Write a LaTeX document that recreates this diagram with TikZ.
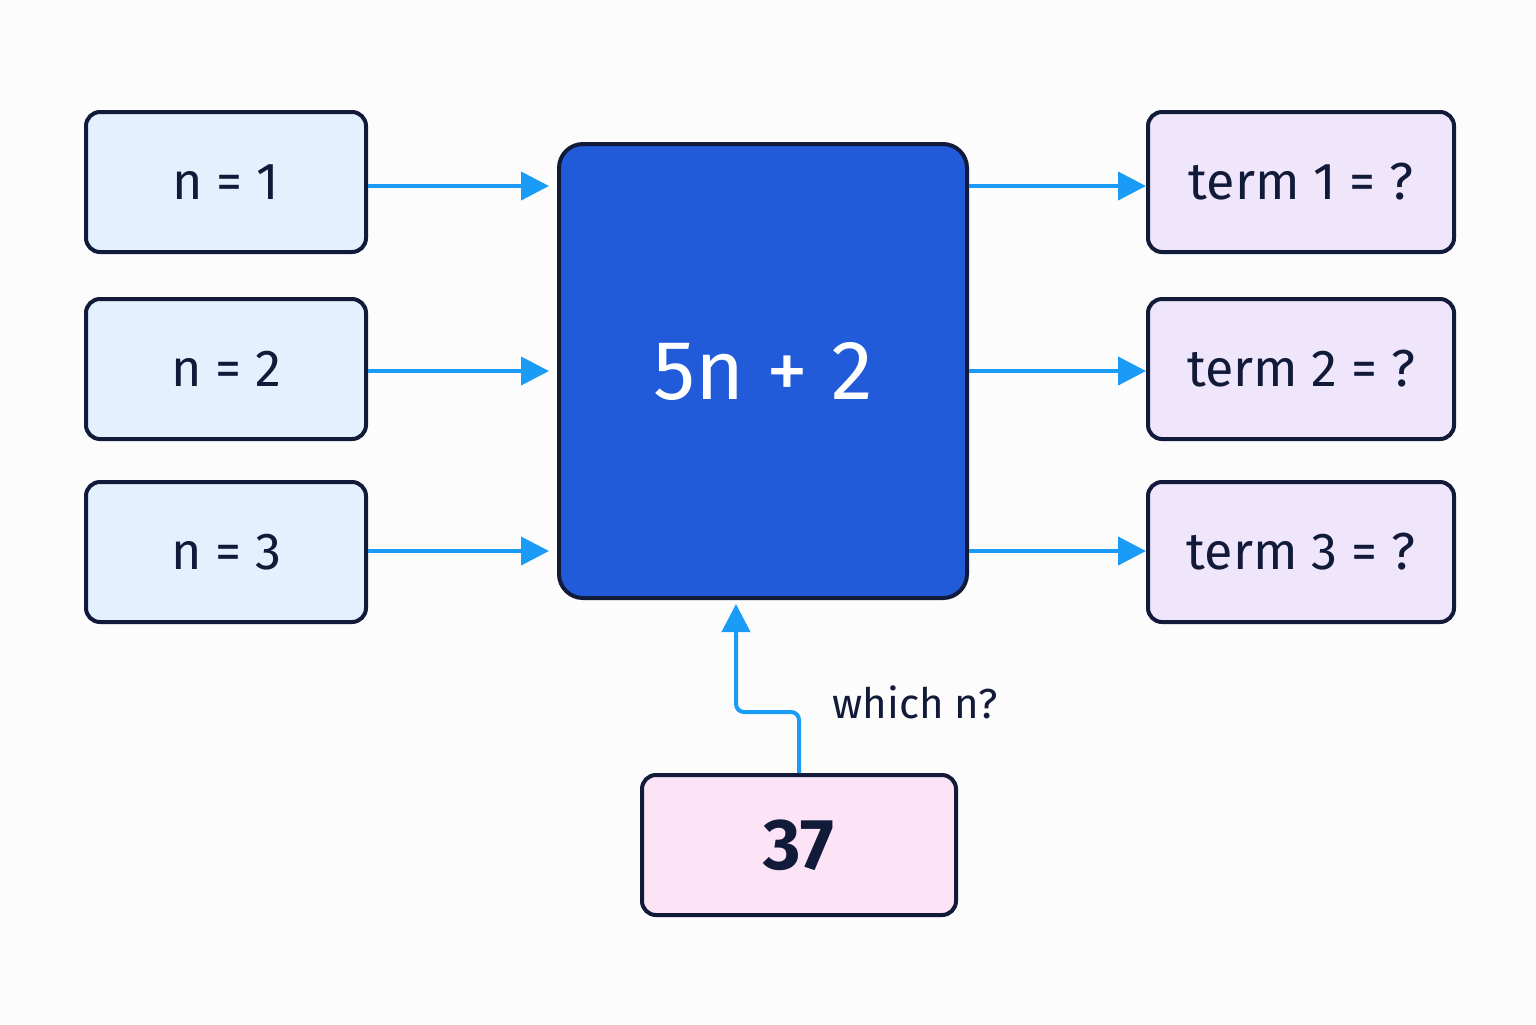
\documentclass[tikz,border=0pt]{standalone}
\usepackage{fontspec}
\setmainfont{Fira Sans}
\usetikzlibrary{arrows.meta}
\definecolor{custcol_ink}{HTML}{121A3A}
\definecolor{custcol_blue}{HTML}{225BDA}
\definecolor{custcol_arrow}{HTML}{1A9BF5}
\definecolor{custcol_inp}{HTML}{E3F0FD}
\definecolor{custcol_out}{HTML}{F0E6FB}
\definecolor{custcol_val}{HTML}{FCE4F6}
\tikzset{
  box/.style={draw=custcol_ink, line width=2pt, rounded corners=7pt, inner sep=0pt, text=custcol_ink, font=\fontsize{26pt}{26pt}\selectfont},
  inbox/.style={box, fill=custcol_inp, minimum width=140pt, minimum height=70pt},
  outbox/.style={box, fill=custcol_out, minimum width=153pt, minimum height=70pt},
  flow/.style={custcol_arrow, line width=2pt, -{Triangle[length=14pt,width=14pt]}}
}
\begin{document}
\begin{tikzpicture}[x=0.5pt,y=-0.5pt]
\fill[white!98!gray] (0,0) rectangle (1536,1024);
\useasboundingbox (0,0) rectangle (1536,1024);
% formula machine
\node[box, fill=custcol_blue, text=white, minimum width=204pt, minimum height=227pt, rounded corners=12pt, font=\fontsize{42pt}{42pt}\selectfont] (rule) at (763,371) {5n + 2};
% inputs and outputs
\foreach \i/\y in {1/182,2/369,3/552}{
  \node[inbox] (n\i) at (226,\y) {n = \i};
  \node[outbox] (t\i) at (1301,\y) {term \i\ = ?};
}
\foreach \i/\y in {1/186,2/371,3/551}{
  \coordinate (ri\i) at (549,\y);
  \coordinate (ro\i) at (969,\y);
  \draw[flow] (n\i.east |- ri\i) -- (ri\i);
  \draw[flow] (ro\i) -- (t\i.west |- ro\i);
}
% the value 37
\node[box, fill=custcol_val, minimum width=157pt, minimum height=70pt, font=\fontsize{36pt}{36pt}\selectfont\bfseries] (v) at (799,845) {37};
\coordinate (up) at (736,604);
\draw[flow, rounded corners=4pt] (v.north) -- (799,712) -- (736,712) -- (up);
\node[text=custcol_ink, font=\fontsize{21pt}{21pt}\selectfont] (ask) at (915,702) {which n?};
\end{tikzpicture}
\end{document}
